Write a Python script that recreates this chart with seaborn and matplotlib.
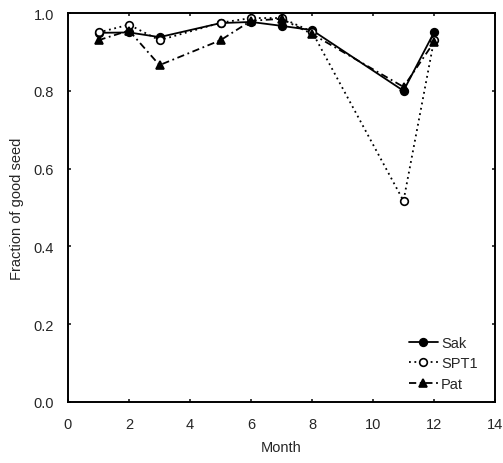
import matplotlib
matplotlib.use("Agg")
import matplotlib.pyplot as plt
import seaborn as sns
import pandas as pd

months = [1, 2, 3, 5, 6, 7, 8, 11, 12]
sak = [0.949, 0.950, 0.938, 0.974, 0.977, 0.967, 0.956, 0.800, 0.950]
spt1 = [0.950, 0.970, 0.930, 0.975, 0.987, 0.987, 0.952, 0.517, 0.930]
pat = [0.930, 0.955, 0.866, 0.930, 0.980, 0.985, 0.946, 0.810, 0.925]

sns.set_theme(style="white")
plt.rcParams['font.family'] = ['Liberation Sans', 'DejaVu Sans']

df = pd.DataFrame({"Month": months * 3,
                   "val": sak + spt1 + pat,
                   "series": ["Sak"] * len(months) + ["SPT1"] * len(months) + ["Pat"] * len(months)})

fig = plt.figure(figsize=(5.03, 4.64), dpi=100)
ax = fig.add_axes([68/503, 1 - 403/464, (495-68)/503, (403-14)/464])

styles = {"Sak": dict(ls="-", marker="o", mfc="black"),
          "SPT1": dict(ls=(0, (1, 2)), marker="o", mfc="white"),
          "Pat": dict(ls=(0, (4, 2, 1, 2)), marker="^", mfc="black")}
for name in ["Sak", "SPT1", "Pat"]:
    sub = df[df.series == name]
    st = styles[name]
    sns.lineplot(data=sub, x="Month", y="val", ax=ax, color="black", lw=1.3,
                 linestyle=st["ls"], marker=st["marker"], markerfacecolor=st["mfc"],
                 markeredgecolor="black", markeredgewidth=1.2, markersize=5.5, label=name)

ax.set_xlim(0, 14)
ax.set_ylim(0, 1.0)
ax.set_xticks(range(0, 15, 2))
ax.set_yticks([0, 0.2, 0.4, 0.6, 0.8, 1.0])
ax.set_yticklabels(["0.0", "0.2", "0.4", "0.6", "0.8", "1.0"])
ax.set_xlabel("Month", fontsize=10.5, labelpad=6)
ax.set_ylabel("Fraction of good seed", fontsize=10.5, labelpad=7)
ax.tick_params(axis="x", labelsize=10.5, length=2, direction="in", pad=11, top=True, bottom=True)
ax.tick_params(axis="y", labelsize=10.5, length=2, direction="in", pad=10, left=True, right=True)
for s in ax.spines.values():
    s.set_color("black")
    s.set_linewidth(1.4)
leg = ax.legend(loc="lower right", frameon=False, fontsize=10.5, handlelength=2.0,
                handletextpad=0.2, labelspacing=0.45, bbox_to_anchor=(0.99, -0.005))
fig.savefig("out.png", dpi=100)
